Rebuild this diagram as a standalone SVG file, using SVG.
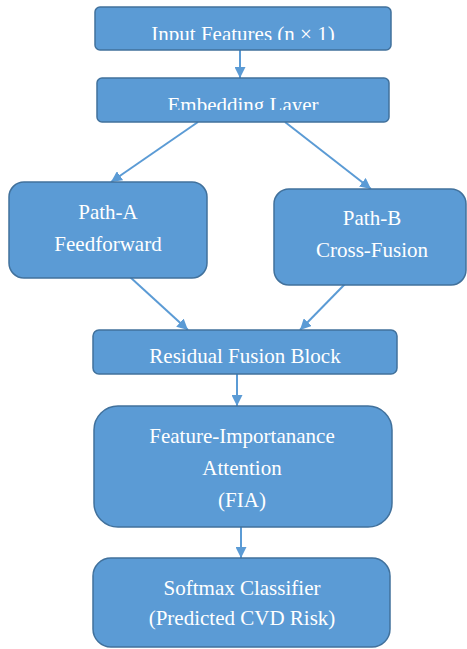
<svg xmlns="http://www.w3.org/2000/svg" width="467" height="649" viewBox="0 0 467 649">
<style>
.box{fill:#5B9BD5;stroke:#41719C;stroke-width:1.5}
.t{font-family:"Liberation Serif","Times New Roman",serif;font-size:21px;fill:#FFFFFF;text-anchor:middle}
.c{stroke:#5B9BD5;stroke-width:2;fill:none;marker-end:url(#ah)}
</style>
<defs>
<marker id="ah" viewBox="0 0 10 10" refX="10" refY="5" markerWidth="5.5" markerHeight="5.5" markerUnits="strokeWidth" orient="auto">
<path d="M0,0 L10,5 L0,10 z" fill="#5B9BD5"/>
</marker>
<clipPath id="clip1"><rect x="95" y="7" width="296" height="33"/></clipPath>
<clipPath id="clip2"><rect x="97" y="78" width="292" height="32"/></clipPath>
</defs>
<g id="connectors">
<line class="c" x1="240" y1="50" x2="240" y2="78"/>
<line class="c" x1="198" y1="122" x2="111" y2="182"/>
<line class="c" x1="285" y1="122" x2="371" y2="189"/>
<line class="c" x1="130" y1="277" x2="188" y2="330"/>
<line class="c" x1="345" y1="284" x2="300" y2="330"/>
<line class="c" x1="237" y1="374" x2="237" y2="406"/>
<line class="c" x1="241" y1="527" x2="241" y2="558"/>
</g>
<g id="input">
<rect class="box" x="95" y="7" width="296" height="43" rx="5"/>
<text class="t" x="243" y="41" clip-path="url(#clip1)">Input Features (n × 1)</text>
</g>
<g id="embedding">
<rect class="box" x="97" y="78" width="292" height="44" rx="5"/>
<text class="t" x="243" y="111.5" clip-path="url(#clip2)">Embedding Layer</text>
</g>
<g id="pathA">
<rect class="box" x="9" y="182" width="198" height="96" rx="15"/>
<text class="t" x="108" y="219">Path-A</text>
<text class="t" x="108" y="251">Feedforward</text>
</g>
<g id="pathB">
<rect class="box" x="274" y="189" width="192" height="96" rx="15"/>
<text class="t" x="372" y="225">Path-B</text>
<text class="t" x="372" y="257">Cross-Fusion</text>
</g>
<g id="residual">
<rect class="box" x="93" y="330" width="304" height="44" rx="6"/>
<text class="t" x="245" y="363">Residual Fusion Block</text>
</g>
<g id="fia">
<rect class="box" x="94" y="406" width="298" height="121" rx="24"/>
<text class="t" x="242" y="443">Feature-Importanance</text>
<text class="t" x="242" y="475">Attention</text>
<text class="t" x="242" y="507">(FIA)</text>
</g>
<g id="softmax">
<rect class="box" x="93" y="558" width="297" height="89" rx="18"/>
<text class="t" x="242" y="595">Softmax Classifier</text>
<text class="t" x="242" y="625">(Predicted CVD Risk)</text>
</g>
</svg>
